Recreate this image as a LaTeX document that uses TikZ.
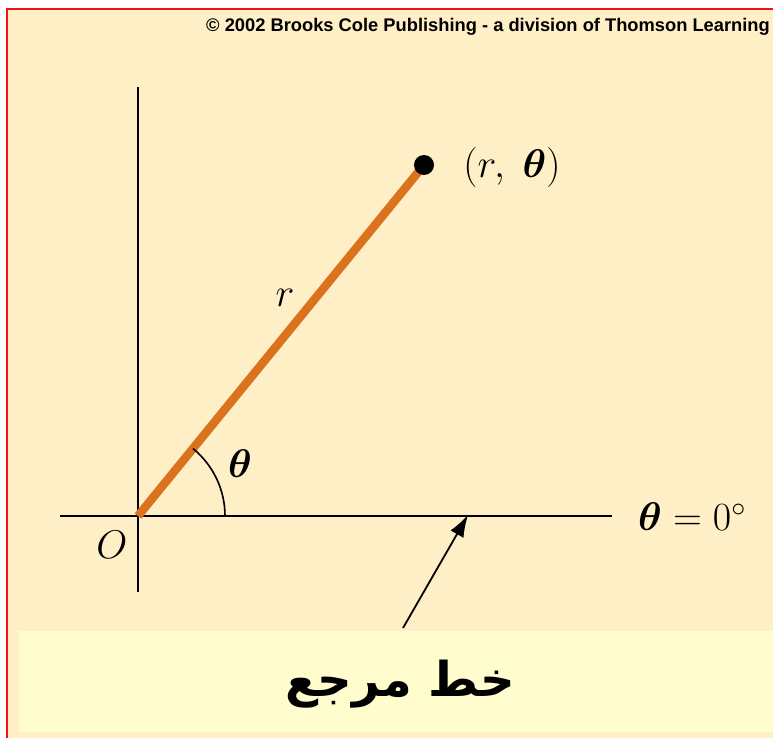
\RequirePackage{fix-cm}
\documentclass[tikz,border=0pt]{standalone}
\usepackage{amsmath}
\usepackage{fontspec}
\newfontfamily\arabicfont[Script=Arabic]{DejaVu Sans}
\newfontfamily\headfont{Liberation Sans}
\TeXXeTstate=1
\definecolor{bgorange}{RGB}{255,239,198}
\definecolor{boxyellow}{RGB}{255,253,206}
\definecolor{rayorange}{RGB}{218,114,30}
\definecolor{frame}{RGB}{240,20,20}
\usetikzlibrary{arrows.meta}
\tikzset{
  axis/.style={line width=1.8pt, black},
  ray/.style={line width=8.5pt, rayorange},
  mathlbl/.style={inner sep=0pt, font=\fontsize{40}{46}\selectfont},
  pointer/.style={line width=1.8pt, -{Latex[length=22pt,width=15pt]}},
}
\newcommand{\bth}{\boldsymbol{\theta}}
\begin{document}
\begin{tikzpicture}[x=1pt,y=-1pt]
\useasboundingbox (0,0) rectangle (773,738);
\fill[white] (0,0) rectangle (773,738);
\fill[bgorange] (7,9) rectangle (773,738);
\draw[frame, line width=1.6pt] (7,738) -- (7,9) -- (773,9);
\fill[boxyellow] (19,631) rectangle (773,732);
\node[anchor=east, inner sep=0pt, font=\headfont\bfseries\fontsize{18.3}{20}\selectfont] (copy) at (770,27) {© 2002 Brooks Cole Publishing - a division of Thomson Learning};
% axes
\coordinate (O) at (138,516);
\coordinate (P) at (424,165);
\coordinate (vtop) at (138,87);
\coordinate (vbot) at (138,592);
\coordinate (hleft) at (60,516);
\coordinate (hright) at (612,516);
\draw[axis] (vtop) -- (vbot);
\draw[axis] (hleft) -- (hright);
\draw[ray] (O) -- (P);
\fill[black] (P) circle[radius=10];
\draw[line width=1.6pt] (225,516) arc[start angle=0, end angle=-50.8, radius=87];
\node[mathlbl] (pt) at (512,168) {$(r,\;\bth)$};
\node[mathlbl] (rl) at (285,298) {$r$};
\node[mathlbl] (th) at (240,464) {$\bth$};
\node[mathlbl] (ol) at (112,545) {$O$};
\node[mathlbl, anchor=west] (zero) at (638,517) {$\bth = 0^\circ$};
% arrow
\coordinate (tail) at (403,628);
\coordinate (tip) at (468,515);
\draw[pointer] (tail) -- (tip);
\node[inner sep=0pt, font=\arabicfont\bfseries\fontsize{48}{58}\selectfont] (ref) at (400,684) {\beginR خط مرجع\endR};
\end{tikzpicture}
\end{document}
